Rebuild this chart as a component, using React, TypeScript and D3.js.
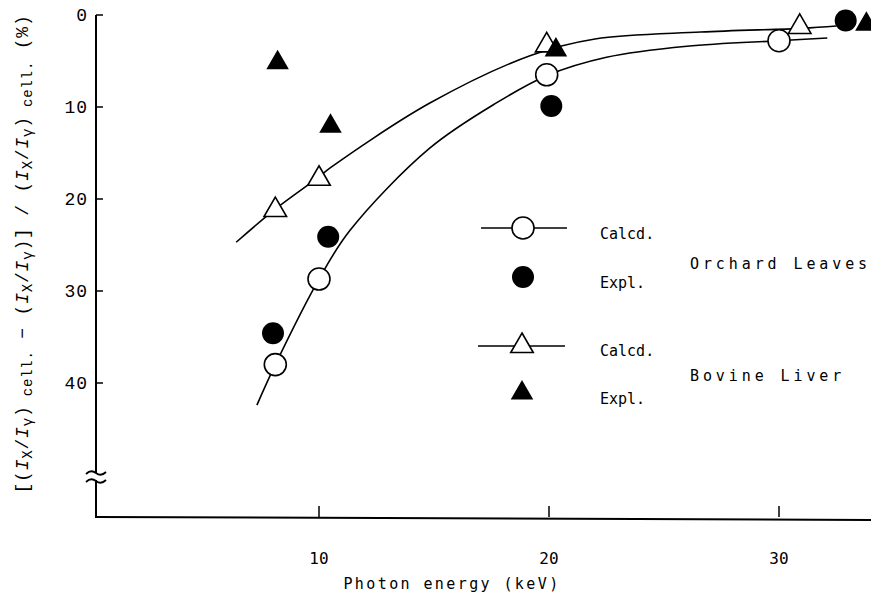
import React from "react";
import * as d3 from "d3";

// ---- data (percent deviation, x in keV) ----
const orchardCalcdX = [8.1, 10.0, 19.9, 30.0];
const orchardCalcdY = [38.0, 28.7, 6.5, 2.8];
const orchardExplX = [8.0, 10.4, 20.1, 32.9];
const orchardExplY = [34.6, 24.1, 9.9, 0.6];
const bovineCalcdX = [8.1, 10.0, 19.9, 30.9];
const bovineCalcdY = [21.2, 17.8, 3.3, 1.3];
const bovineExplX = [8.2, 10.5, 20.3, 33.8];
const bovineExplY = [5.2, 12.1, 3.8, 1.0];

// fitted curves
const orchardCurveX = [7.3, 8.1, 10.0, 11.35, 14.8, 17.75, 19.9, 22.5, 26.0, 30.0, 32.1];
const orchardCurveY = [42.4, 38.0, 28.7, 23.4, 14.5, 9.5, 6.6, 4.6, 3.4, 2.8, 2.5];
const bovineCurveX = [6.4, 8.1, 10.0, 10.5, 14.8, 19.2, 22.0, 26.6, 31.0, 32.5];
const bovineCurveY = [24.7, 21.1, 17.6, 16.6, 9.6, 4.4, 2.6, 1.85, 1.45, 1.2];

const xTicks = [10, 20, 30];
const yTicks = [0, 10, 20, 30, 40];

const MONO = "'DejaVu Sans Mono', monospace";
const SERIFMONO = "'Liberation Mono', 'Courier New', monospace";

export default function App() {
  const W = 871, H = 597;
  const x = d3.scaleLinear().domain([0, 30]).range([89, 779]);
  const y = d3.scaleLinear().domain([0, 40]).range([15, 383]);
  const axisX = 96, axisBottom = 517;

  const line = d3
    .line<[number, number]>()
    .x((d) => x(d[0]))
    .y((d) => y(d[1]))
    .curve(d3.curveCatmullRom.alpha(0.5));

  const orchardPts: [number, number][] = orchardCurveX.map((v, i) => [v, orchardCurveY[i]]);
  const bovinePts: [number, number][] = bovineCurveX.map((v, i) => [v, bovineCurveY[i]]);

  const tri = d3.symbol().type(d3.symbolTriangle).size(220)() as string;
  const R = 11;

  const openCircle = (cx: number, cy: number, k: string) => (
    <circle key={k} cx={cx} cy={cy} r={R} fill="#fff" stroke="#000" strokeWidth={1.6} />
  );
  const fillCircle = (cx: number, cy: number, k: string) => (
    <circle key={k} cx={cx} cy={cy} r={R} fill="#000" />
  );
  const openTri = (cx: number, cy: number, k: string) => (
    <path key={k} d={tri} transform={`translate(${cx},${cy})`} fill="#fff" stroke="#000" strokeWidth={1.6} />
  );
  const fillTri = (cx: number, cy: number, k: string) => (
    <path key={k} d={tri} transform={`translate(${cx},${cy})`} fill="#000" />
  );

  const sub = { fontSize: 14, baselineShift: "-30%" } as React.CSSProperties;

  return (
    <svg width={W} height={H} style={{ position: "absolute", left: 0, top: 0, background: "#fff" }}>
      <rect width={W} height={H} fill="#fff" />
      {/* y axis with break */}
      <line x1={axisX} y1={y(0)} x2={axisX} y2={473} stroke="#000" strokeWidth={2} />
      <line x1={axisX} y1={480} x2={axisX} y2={axisBottom} stroke="#000" strokeWidth={2} />
      <path d="M86,474 q5,-5 10,-1 q5,4 10,-1" fill="none" stroke="#000" strokeWidth={1.8} />
      <path d="M86,482 q5,-5 10,-1 q5,4 10,-1" fill="none" stroke="#000" strokeWidth={1.8} />
      {/* x axis */}
      <line x1={axisX - 1} y1={axisBottom} x2={W} y2={axisBottom + 3} stroke="#000" strokeWidth={2} />
      {xTicks.map((t) => (
        <g key={"xt" + t}>
          <line x1={x(t)} y1={axisBottom - 11} x2={x(t)} y2={axisBottom} stroke="#000" strokeWidth={1.5} />
          <text x={x(t)} y={564} textAnchor="middle" fontFamily={MONO} fontSize={16}>
            {t}
          </text>
        </g>
      ))}
      {yTicks.map((t) => (
        <g key={"yt" + t}>
          <line x1={axisX} y1={y(t)} x2={axisX + 7} y2={y(t)} stroke="#000" strokeWidth={1.5} />
          <text x={88} y={y(t) + 6} textAnchor="end" fontFamily={SERIFMONO} fontSize={18} letterSpacing={1}>
            {t}
          </text>
        </g>
      ))}
      {/* axis titles */}
      <text x={452} y={589} textAnchor="middle" fontFamily={MONO} fontSize={15} letterSpacing={2.4}>
        Photon energy (keV)
      </text>
      <text
        transform="translate(28,254) rotate(-90)"
        textAnchor="middle"
        fontFamily={SERIFMONO}
        fontSize={18}
        letterSpacing={0.8}
      >
        <tspan>[(</tspan>
        <tspan fontStyle="italic">I</tspan>
        <tspan style={sub}>X</tspan>
        <tspan>/</tspan>
        <tspan fontStyle="italic">I</tspan>
        <tspan style={sub}>γ</tspan>
        <tspan>)</tspan>
        <tspan style={sub}> cell.</tspan>
        <tspan> − (</tspan>
        <tspan fontStyle="italic">I</tspan>
        <tspan style={sub}>X</tspan>
        <tspan>/</tspan>
        <tspan fontStyle="italic">I</tspan>
        <tspan style={sub}>γ</tspan>
        <tspan>)] / (</tspan>
        <tspan fontStyle="italic">I</tspan>
        <tspan style={sub}>X</tspan>
        <tspan>/</tspan>
        <tspan fontStyle="italic">I</tspan>
        <tspan style={sub}>γ</tspan>
        <tspan>)</tspan>
        <tspan style={sub}> cell.</tspan>
        <tspan>  (%)</tspan>
      </text>

      {/* curves */}
      <path d={line(orchardPts) as string} fill="none" stroke="#000" strokeWidth={1.6} />
      <path d={line(bovinePts) as string} fill="none" stroke="#000" strokeWidth={1.6} />

      {/* markers */}
      {orchardCalcdX.map((v, i) => openCircle(x(v), y(orchardCalcdY[i]), "oc" + i))}
      {orchardExplX.map((v, i) => fillCircle(x(v), y(orchardExplY[i]), "oe" + i))}
      {bovineCalcdX.map((v, i) => openTri(x(v), y(bovineCalcdY[i]), "bc" + i))}
      {bovineExplX.map((v, i) => fillTri(x(v), y(bovineExplY[i]), "be" + i))}

      {/* legend */}
      <line x1={481} y1={228} x2={567} y2={228} stroke="#000" strokeWidth={1.6} />
      {openCircle(523, 228, "lg1")}
      {fillCircle(523, 277, "lg2")}
      <line x1={478} y1={346} x2={565} y2={346} stroke="#000" strokeWidth={1.6} />
      {openTri(522, 346, "lg3")}
      {fillTri(522, 393, "lg4")}
      <text x={600} y={239} fontFamily={MONO} fontSize={15}>Calcd.</text>
      <text x={600} y={288} fontFamily={MONO} fontSize={15}>Expl.</text>
      <text x={600} y={356} fontFamily={MONO} fontSize={15}>Calcd.</text>
      <text x={600} y={404} fontFamily={MONO} fontSize={15}>Expl.</text>
      <text x={690} y={269} fontFamily={MONO} fontSize={15} letterSpacing={3.9}>Orchard Leaves</text>
      <text x={690} y={381} fontFamily={MONO} fontSize={15} letterSpacing={3.9}>Bovine Liver</text>
    </svg>
  );
}
